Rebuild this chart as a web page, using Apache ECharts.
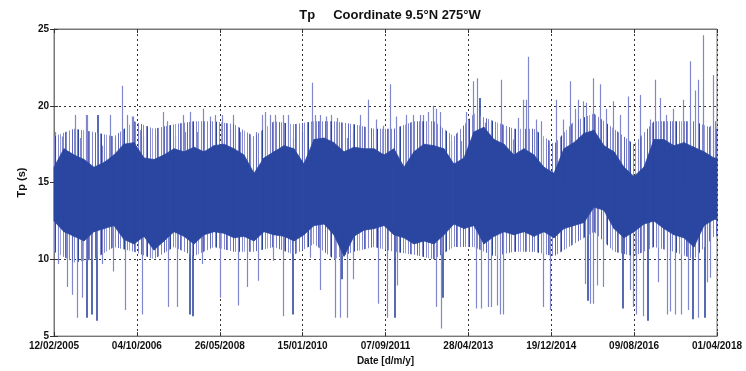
<!DOCTYPE html>
<html>
<head>
<meta charset="utf-8">
<script src="https://cdn.jsdelivr.net/npm/echarts@6/dist/echarts.min.js"></script>
<style>
  html, body { margin: 0; padding: 0; background: #fff; }
  #chart { width: 746px; height: 371px; }
</style>
</head>
<body>
<div id="chart"></div>
<script>
// x values are days counted from 12/02/2005
const tickLabels = ['12/02/2005', '04/10/2006', '26/05/2008', '15/01/2010', '07/09/2011',
  '28/04/2013', '19/12/2014', '09/08/2016', '01/04/2018']
const tickStep = 599.5
const lastDay = 4796

// dense core of the record: upper / lower edge
const bandDays = [0, 72, 145, 217, 289, 362, 434, 506, 579, 651, 723, 796, 868, 940, 1013, 1085,
  1157, 1230, 1302, 1374, 1447, 1519, 1591, 1664, 1736, 1808, 1881, 1953, 2025, 2098, 2170,
  2242, 2315, 2387, 2459, 2532, 2604, 2676, 2749, 2821, 2893, 2966, 3038, 3110, 3183, 3255,
  3327, 3400, 3472, 3544, 3617, 3689, 3761, 3834, 3906, 3978, 4051, 4123, 4195, 4268, 4340,
  4412, 4485, 4557, 4629, 4702, 4774, 4796]
const bandHigh = [16.0, 17.2, 16.8, 16.5, 16.0, 16.3, 16.8, 17.5, 17.6, 16.6, 16.5, 16.8, 17.2,
  17.0, 17.3, 17.0, 17.4, 17.5, 17.2, 16.8, 15.6, 16.6, 17.0, 17.4, 17.2, 16.2, 17.8, 17.9,
  17.6, 17.0, 17.3, 17.2, 17.2, 16.8, 17.2, 16.0, 17.0, 17.5, 17.4, 17.2, 16.2, 16.6, 18.3,
  18.6, 17.8, 17.5, 16.8, 17.2, 16.8, 16.0, 15.6, 17.2, 17.6, 18.2, 18.4, 17.4, 17.0, 16.0,
  15.4, 16.0, 17.8, 17.8, 17.4, 17.6, 17.3, 17.0, 16.6, 16.6]
const bandLow = [12.5, 11.8, 11.5, 11.2, 11.8, 12.0, 12.2, 11.3, 11.0, 11.5, 10.6, 11.2, 11.8,
  11.5, 11.0, 11.6, 11.8, 11.7, 11.4, 11.5, 11.2, 11.8, 11.6, 11.5, 11.2, 11.6, 12.2, 12.3,
  11.6, 10.2, 11.5, 11.9, 12.0, 12.2, 11.6, 11.4, 11.0, 11.2, 11.0, 11.6, 12.3, 12.0, 12.2,
  11.0, 11.5, 11.8, 11.6, 11.8, 11.5, 11.8, 11.4, 12.0, 12.2, 12.4, 13.4, 13.2, 12.0, 11.4,
  11.8, 12.3, 12.5, 12.0, 11.6, 11.4, 10.8, 12.2, 12.6, 12.6]

// looser zone of frequent strands around the core
const fringeDays = [0, 145, 289, 434, 579, 723, 868, 1013, 1157, 1302, 1447, 1591, 1736, 1881,
  2025, 2170, 2315, 2459, 2604, 2749, 2893, 3038, 3183, 3327, 3472, 3617, 3761, 3906, 4051,
  4195, 4340, 4485, 4629, 4774, 4796]
const fringeHigh = [18.0, 18.5, 18.3, 18.0, 19.0, 18.5, 18.8, 19.0, 19.0, 18.8, 18.0, 19.0,
  18.8, 19.0, 19.0, 18.8, 18.5, 18.5, 19.0, 19.0, 18.0, 19.5, 19.0, 18.5, 18.5, 17.5, 19.0,
  19.5, 18.5, 17.5, 19.0, 19.0, 19.0, 18.5, 18.5]
const fringeLow = [10.5, 9.8, 10.0, 10.8, 10.5, 10.0, 10.8, 10.2, 10.8, 10.5, 10.5, 10.8, 10.3,
  11.0, 10.0, 10.5, 10.8, 10.5, 10.3, 10.0, 10.8, 10.8, 10.2, 10.5, 10.5, 10.2, 11.0, 11.8,
  10.5, 10.2, 10.8, 10.5, 10.0, 11.5, 11.5]

// single peaks sticking out of the core [day, Tp]
const lightSpikes = [
  [7, 18.3], [58, 18.0], [152, 19.4], [188, 17.9], [231, 19.4], [239, 19.4], [347, 17.4],
  [405, 19.4], [441, 17.9], [492, 21.3], [528, 19.4], [564, 19.3], [571, 19.3], [622, 18.4],
  [644, 18.0], [745, 18.0], [789, 19.6], [817, 19.0], [875, 18.0], [933, 19.4], [947, 18.3],
  [984, 19.6], [1034, 18.3], [1078, 19.8], [1129, 19.3], [1165, 19.4], [1215, 19.4],
  [1273, 18.5], [1295, 19.4], [1345, 18.3], [1418, 17.9], [1461, 18.3], [1505, 19.4],
  [1526, 19.6], [1562, 19.4], [1599, 19.4], [1657, 19.4], [1693, 19.4], [1729, 17.9],
  [1794, 18.3], [1866, 21.5], [1888, 19.4], [1924, 19.4], [1968, 19.3], [2004, 19.4],
  [2047, 19.2], [2120, 17.9], [2163, 18.3], [2214, 19.4], [2271, 20.4],
  [2329, 19.1], [2380, 18.7], [2431, 21.4], [2474, 19.3], [2546, 19.4], [2597, 19.4],
  [2648, 19.4], [2669, 19.4], [2706, 19.6], [2742, 20.0], [2763, 19.8], [2792, 19.6],
  [2872, 17.7], [2944, 17.7], [2980, 19.6], [3031, 21.6], [3060, 21.8], [3118, 18.9],
  [3161, 18.9], [3233, 21.7], [3270, 18.5], [3320, 17.8], [3357, 19.2], [3393, 20.4],
  [3414, 20.4], [3429, 23.2], [3487, 19.1], [3523, 19.0], [3632, 20.4], [3682, 19.1],
  [3733, 21.6], [3769, 19.8], [3791, 20.4], [3827, 20.3], [3849, 20.2], [3899, 21.8],
  [3950, 21.4], [3994, 19.8], [4044, 20.3], [4095, 19.4], [4153, 20.6], [4240, 20.7],
  [4312, 19.1], [4348, 21.7], [4384, 20.5], [4427, 19.4], [4478, 19.8], [4550, 20.4],
  [4601, 22.9], [4637, 21.0], [4659, 21.7], [4695, 24.6], [4745, 18.7], [4767, 22.0],
  [4782, 19.0],
  [29, 9.7], [94, 8.2], [130, 7.7], [166, 6.2], [203, 7.5], [347, 9.7], [427, 9.2],
  [514, 6.7], [637, 6.4], [694, 10.1], [825, 6.9], [890, 6.9], [1071, 9.7], [1201, 7.5],
  [1331, 7.0], [1396, 8.2], [1476, 8.6], [1584, 9.9], [1657, 6.3], [1852, 10.1],
  [1924, 8.0], [2033, 6.2], [2069, 6.2], [2120, 6.2], [2163, 8.7],
  [2344, 7.1], [2409, 6.2], [2481, 8.3], [2763, 6.9], [2800, 5.5], [3053, 6.8],
  [3089, 6.8], [3140, 6.9], [3161, 6.9], [3205, 7.0], [3226, 6.4], [3248, 6.4],
  [3537, 6.9], [3588, 6.7], [3841, 8.4], [3877, 7.1], [3899, 7.1], [3928, 8.3],
  [3972, 8.2], [4167, 8.0], [4189, 6.9], [4211, 6.4], [4262, 6.3], [4370, 8.5],
  [4435, 6.4], [4457, 6.6], [4493, 6.4], [4536, 6.4], [4586, 6.7], [4659, 6.2],
  [4724, 8.5], [4745, 8.8]
]
// clustered peaks that look solid in the picture
const darkSpikes = [
  [318, 19.4], [3082, 20.5],
  [239, 6.2], [275, 6.4], [311, 6.0], [984, 6.4], [1005, 6.3], [1729, 6.4], [2083, 8.7],
  [2467, 6.2], [2814, 7.5], [3863, 7.3], [4117, 6.8], [4298, 6.0], [4622, 6.1], [4709, 6.2]
]

const darkBlue = '#2a46a0'
const lightBlue = '#8087cc'
const labelFont = '"Liberation Sans", Arial, sans-serif'

const chart = echarts.init(document.getElementById('chart'))

// irregular vertical hatching, so the fringe reads as many thin strands
const strands = document.createElement('canvas')
strands.width = 23
strands.height = 4
{
  const ctx = strands.getContext('2d')
  const cols = [lightBlue, null, null, '#5d66b8', null, lightBlue, null, null, lightBlue,
    darkBlue, null, null, lightBlue, null, '#9aa0d8', null, null, lightBlue, null, '#5d66b8',
    lightBlue, null, null]
  cols.forEach((c, i) => {
    if (!c) return
    ctx.fillStyle = c
    ctx.fillRect(i, 0, 1, 4)
  })
}

const spikeLines = (list) => list.map(s => ({ coords: [[s[0], 15], [s[0], s[1]]] }))

// one quad per pair of neighbouring samples
const toSegments = (days, lo, hi) => days.slice(0, -1).map((d, i) =>
  [d, lo[i], hi[i], days[i + 1], lo[i + 1], hi[i + 1]])

function quadRenderer(style) {
  return function (params, api) {
    const a = api.coord([api.value(0), api.value(1)])
    const b = api.coord([api.value(0), api.value(2)])
    const c = api.coord([api.value(3), api.value(5)])
    const d = api.coord([api.value(3), api.value(4)])
    return { type: 'polygon', shape: { points: [a, b, c, d] }, style: style }
  }
}

const axisText = { fontFamily: labelFont, fontWeight: 'bold', fontSize: 10, color: '#111' }

const option = {
  animation: false,
  backgroundColor: '#fff',
  title: {
    text: 'Tp     Coordinate 9.5°N 275°W',
    left: 385,
    top: 4,
    textAlign: 'center',
    textStyle: { fontFamily: labelFont, fontWeight: 'bold', fontSize: 13, color: '#111' }
  },
  grid: {
    left: 54,
    right: 29,
    top: 29,
    bottom: 32,
    show: true,
    borderColor: '#777',
    borderWidth: 1
  },
  xAxis: [
    {
      type: 'value',
      min: 0,
      max: lastDay,
      interval: tickStep,
      name: 'Date [d/m/y]',
      nameLocation: 'middle',
      nameGap: 18,
      nameTextStyle: axisText,
      axisLine: { show: true, lineStyle: { color: '#777' } },
      axisTick: { show: true, inside: true, length: 4, lineStyle: { color: '#333' } },
      axisLabel: Object.assign({ margin: 5, formatter: v => tickLabels[Math.round(v / tickStep)] }, axisText),
      splitLine: { show: true, lineStyle: { color: '#333', type: [2, 3], width: 1 } }
    },
    {
      type: 'value',
      position: 'top',
      min: 0,
      max: lastDay,
      interval: tickStep,
      axisLine: { show: true, lineStyle: { color: '#777' } },
      axisTick: { show: true, inside: true, length: 4, lineStyle: { color: '#333' } },
      axisLabel: { show: false },
      splitLine: { show: false }
    }
  ],
  yAxis: [
    {
      type: 'value',
      min: 5,
      max: 25,
      interval: 5,
      name: 'Tp (s)',
      nameLocation: 'middle',
      nameGap: 21,
      nameTextStyle: Object.assign({}, axisText, { fontSize: 11 }),
      axisLine: { show: true, lineStyle: { color: '#777' } },
      axisTick: { show: true, inside: true, length: 4, lineStyle: { color: '#333' } },
      axisLabel: Object.assign({ margin: 5 }, axisText),
      splitLine: { show: true, lineStyle: { color: '#333', type: [2, 3], width: 1 } }
    },
    {
      type: 'value',
      position: 'right',
      min: 5,
      max: 25,
      interval: 5,
      axisLine: { show: true, lineStyle: { color: '#777' } },
      axisTick: { show: true, inside: true, length: 4, lineStyle: { color: '#333' } },
      axisLabel: { show: false },
      splitLine: { show: false }
    }
  ],
  series: [
    {
      type: 'lines',
      coordinateSystem: 'cartesian2d',
      z: 2,
      silent: true,
      lineStyle: { color: lightBlue, width: 1.2, opacity: 1 },
      data: spikeLines(lightSpikes)
    },
    {
      type: 'lines',
      coordinateSystem: 'cartesian2d',
      z: 2,
      silent: true,
      lineStyle: { color: darkBlue, width: 1.6, opacity: 1 },
      data: spikeLines(darkSpikes)
    },
    {
      type: 'custom',
      z: 3,
      silent: true,
      renderItem: quadRenderer({ fill: { image: strands, repeat: 'repeat' } }),
      encode: { x: [0, 3], y: [1, 2, 4, 5] },
      data: toSegments(fringeDays, fringeLow, fringeHigh)
    },
    {
      type: 'custom',
      z: 4,
      silent: true,
      renderItem: quadRenderer({ fill: darkBlue, stroke: darkBlue, lineWidth: 0.8 }),
      encode: { x: [0, 3], y: [1, 2, 4, 5] },
      data: toSegments(bandDays, bandLow, bandHigh)
    }
  ]
}

chart.setOption(option)
</script>
</body>
</html>
